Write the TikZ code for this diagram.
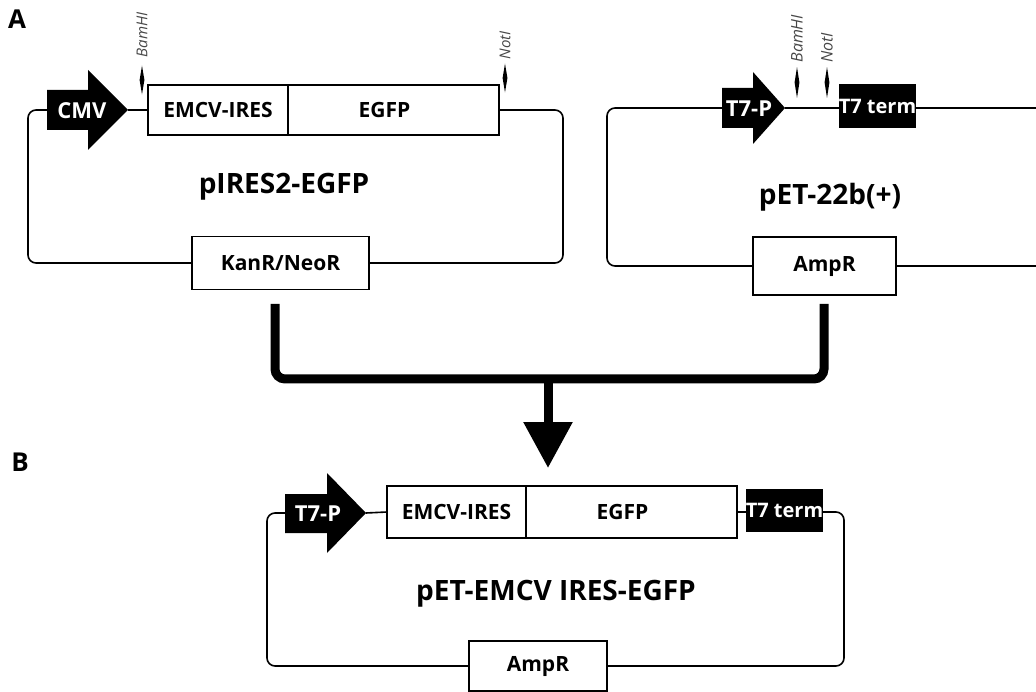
\documentclass[tikz,border=0pt]{standalone}
\usepackage{fontspec}
\setmainfont{Open Sans}
\usetikzlibrary{shapes.geometric,arrows.meta}
\begin{document}
\begin{tikzpicture}[x=1pt,y=-1pt,
  bb/.style={line width=1.6pt, rounded corners=8pt},
  gbox/.style={draw, line width=1.6pt, fill=white, inner sep=0pt, outer sep=0pt, font=\fontsize{21}{21}\selectfont\bfseries},
  term/.style={fill=black, text=white, inner sep=0pt, outer sep=0pt, font=\fontsize{20}{20}\selectfont\bfseries},
  prolabel/.style={text=white, font=\fontsize{22}{22}\selectfont\bfseries, inner sep=0pt},
  title/.style={font=\fontsize{28}{28}\selectfont\bfseries, inner sep=0pt},
  cut/.style={diamond, fill=black, minimum width=5pt, minimum height=29pt, inner sep=0pt},
  site/.style={rotate=90, anchor=west, text=black!72, font=\fontsize{15}{15}\selectfont\itshape, inner sep=0pt},
  flow/.style={line width=9pt, rounded corners=10pt},
  panel/.style={font=\fontsize{26}{26}\selectfont\bfseries, inner sep=0pt}
]
\useasboundingbox (0,0) rectangle (1036,692);

% panel labels
\node[panel] (pA) at (17,19) {A};
\node[panel] (pB) at (20,462) {B};

% ---------- pIRES2-EGFP ----------
\fill (47,90) -- (88,90) -- (88,70) -- (128,110) -- (88,150) -- (88,130) -- (47,130) -- cycle;
\coordinate (cmvL) at (47,110);
\coordinate (cmvT) at (128,110);
\node[prolabel] (cmv) at (82,111) {CMV};
\node[gbox, minimum width=140pt, minimum height=50pt] (ires1) at (218,110) {EMCV-IRES};
\node[gbox, minimum width=211pt, minimum height=50pt, anchor=west] (egfp1) at (ires1.east) {\hspace*{-18pt}EGFP};
\node[gbox, minimum width=177pt, minimum height=53pt] (kan) at (280.5,263) {KanR/NeoR};
\coordinate (c1a) at (28,110);
\coordinate (c1b) at (28,263);
\coordinate (c1c) at (563,110);
\coordinate (c1d) at (563,263);
\draw[bb] (cmvL) -- (c1a) -- (c1b) -- (kan.west);
\draw[bb] (cmvT) -- (ires1.west);
\draw[bb] (egfp1.east) -- (c1c) -- (c1d) -- (kan.east);
\node[cut] (bam1) at (142,80) {};
\node[site] (bam1t) at ([yshift=8pt]bam1.north) {BamHI};
\node[cut] (not1) at (505,78) {};
\node[site] (not1t) at ([yshift=4pt]not1.north) {NotI};
\node[title] (t1) at (284,187) {pIRES2-EGFP};

% ---------- pET-22b(+) ----------
\fill (722,88) -- (753,88) -- (753,72) -- (785,108) -- (753,144) -- (753,128) -- (722,128) -- cycle;
\coordinate (t7aL) at (722,108);
\coordinate (t7aT) at (785,108);
\node[prolabel] (t7p1) at (749,109) {T7-P};
\node[term, minimum width=77pt, minimum height=44pt] (term1) at (877.5,106) {T7 term};
\node[gbox, minimum width=143pt, minimum height=58pt] (amp1) at (824.5,266) {AmpR};
\coordinate (c2a) at (607,108);
\coordinate (c2b) at (607,266);
\coordinate (c2e) at (1036,108);
\coordinate (c2f) at (1036,266);
\draw[bb] (t7aL) -- (c2a) -- (c2b) -- (amp1.west);
\draw[bb] (t7aT) -- (t7aT -| term1.west);
\draw[bb] (t7aT -| term1.east) -- (c2e);
\draw[bb] (amp1.east) -- (c2f);
\node[cut, minimum height=31pt] (bam2) at (797,82.5) {};
\node[site, font=\fontsize{16}{16}\selectfont\itshape] (bam2t) at ([yshift=4pt]bam2.north) {BamHI};
\node[cut, minimum height=31pt] (not2) at (827,82.5) {};
\node[site, font=\fontsize{16}{16}\selectfont\itshape] (not2t) at ([yshift=4pt]not2.north) {NotI};
\node[title] (t2) at (830,197) {pET-22b(+)};

% ---------- merge connector ----------
\coordinate (j1) at (275,304);
\coordinate (j1b) at (275,379);
\coordinate (j2b) at (824,379);
\coordinate (j2) at (824,304);
\coordinate (jm) at (548,379);
\coordinate (bTop) at (548,468);
\draw[flow] (j1) -- (j1b) -- (j2b) -- (j2);
\draw[line width=9pt, -{Triangle[width=47pt,length=46pt]}] (jm) -- (bTop);

% ---------- pET-EMCV IRES-EGFP ----------
\fill (285,494) -- (327,494) -- (327,473) -- (366,513) -- (327,553) -- (327,533) -- (285,533) -- cycle;
\coordinate (t7bL) at (285,513);
\coordinate (t7bT) at (366,513);
\node[prolabel] (t7p2) at (318,514) {T7-P};
\node[gbox, minimum width=139pt, minimum height=52pt] (ires2) at (456.5,512) {EMCV-IRES};
\node[gbox, minimum width=211pt, minimum height=52pt, anchor=west] (egfp2) at (ires2.east) {\hspace*{-18pt}EGFP};
\node[term, minimum width=77pt, minimum height=43pt] (term2) at (784.5,510.5) {T7 term};
\node[gbox, minimum width=138pt, minimum height=50pt] (amp2) at (538,666) {AmpR};
\coordinate (c3a) at (267,513);
\coordinate (c3b) at (267,666);
\coordinate (c3c) at (844,512);
\coordinate (c3d) at (844,666);
\draw[bb] (t7bL) -- (c3a) -- (c3b) -- (amp2.west);
\draw[bb] (t7bT) -- (ires2.west);
\draw[bb] (egfp2.east) -- (egfp2.east -| term2.west);
\draw[bb] (egfp2.east -| term2.east) -- (c3c) -- (c3d) -- (amp2.east);
\node[title] (t3) at (556,594) {pET-EMCV IRES-EGFP};
\end{tikzpicture}
\end{document}
